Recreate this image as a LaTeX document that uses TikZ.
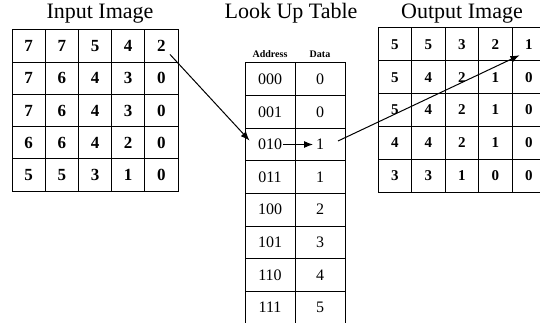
\documentclass[tikz,border=0pt]{standalone}
\usepackage{fontspec}
\setmainfont{Liberation Serif}
\usepackage{tikz}
\usetikzlibrary{arrows.meta, calc, positioning}

\tikzset{
    incell/.style={draw, line width=1pt, minimum width=33.2pt, minimum height=32.2pt, inner sep=0pt, font=\fontsize{17}{17}\selectfont\bfseries},
    outcell/.style={draw, line width=1pt, minimum width=33.5pt, minimum height=32.8pt, inner sep=0pt, font=\fontsize{15}{15}\selectfont\bfseries},
    lutcell/.style={draw, line width=1pt, minimum width=50pt, minimum height=32.6pt, inner sep=0pt, font=\fontsize{16}{16}\selectfont},
    heading/.style={inner sep=0pt, anchor=base, font=\fontsize{22}{22}\selectfont},
    colhead/.style={inner sep=0pt, font=\fontsize{10}{10}\selectfont\bfseries},
    pointer/.style={line width=1pt, -{Latex[length=9pt, width=7pt]}}
}

\begin{document}
\begin{tikzpicture}[x=1pt, y=-1pt]

            \useasboundingbox (0,0) rectangle (540,323);
            \clip (0,0) rectangle (540,323);

            \node[heading] (intitle) at (100,19) {Input Image};
            \node[heading] (luttitle) at (291,19) {Look Up Table};
            \node[heading] (outtitle) at (462,19) {Output Image};

            \foreach \row [count=\r] in {{7,7,5,4,2},{7,6,4,3,0},{7,6,4,3,0},{6,6,4,2,0},{5,5,3,1,0}}{
                \foreach \v [count=\c] in \row {
                    \node[incell] (in\r\c) at ({12+33.2*(\c-0.5)}, {30+32.2*(\r-0.5)}) {\v};
                }
            }

            \foreach \row [count=\r] in {{5,5,3,2,1},{5,4,2,1,0},{5,4,2,1,0},{4,4,2,1,0},{3,3,1,0,0}}{
                \foreach \v [count=\c] in \row {
                    \node[outcell] (out\r\c) at ({378+33.5*(\c-0.5)}, {28+32.8*(\r-0.5)}) {\v};
                }
            }

            \foreach \a/\d [count=\r] in {000/0, 001/0, 010/1, 011/1, 100/2, 101/3, 110/4, 111/5}{
                \node[lutcell] (addr\r) at (270, {63+32.6*(\r-0.5)}) {\a};
                \node[lutcell] (data\r) at (320, {63+32.6*(\r-0.5)}) {\d};
            }

            \node[colhead, above=5pt of addr1] (addrhead) {Address};
            \node[colhead, above=5pt of data1] (datahead) {Data};

            \draw[pointer] ($(in15.center)!0.5!(in15.south east)$) -- ($(addr3.west)+(5,-4)$);
            \draw[pointer] ($(addr3.center)+(13,0)$) -- ($(data3.center)+(-7,0)$);
            \draw[pointer] ($(data3.center)+(18,-3.5)$) -- ($(out15.south west)+(8,-6)$);

        \end{tikzpicture}
\end{document}
